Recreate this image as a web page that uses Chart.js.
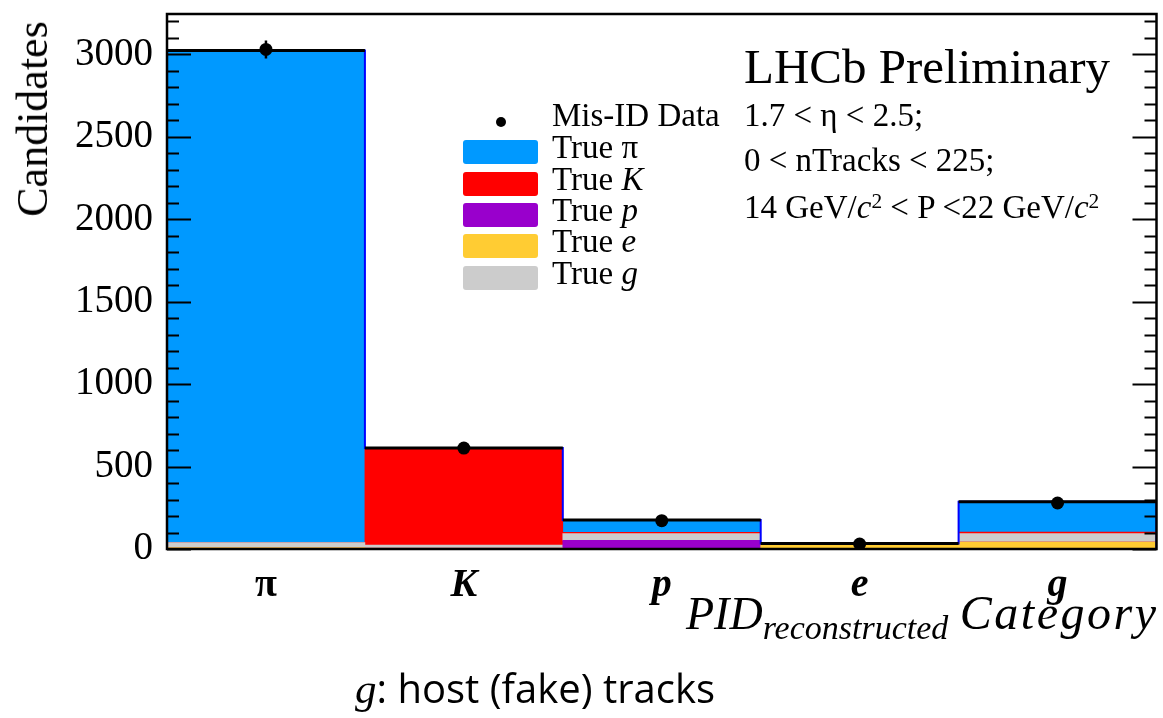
<!DOCTYPE html>
<html>
<head>
<meta charset="utf-8">
<script src="https://cdn.jsdelivr.net/npm/chart.js@4.4.1/dist/chart.umd.min.js"></script>
<style>
  body { margin: 0; background: #fff; }
  #wrap { position: relative; width: 1163px; height: 718px; font-family: 'Liberation Serif', serif; color: #000; }
  #wrap canvas { position: absolute; left: 0; top: 0; }
  .txt { position: absolute; white-space: nowrap; line-height: 1; pointer-events: none; }
  .box { position: absolute; width: 75px; height: 24px; border-radius: 3px; }
  sup { font-size: 0.65em; vertical-align: 0.45em; line-height: 0; }
</style>
</head>
<body>
<div id="wrap">
  <canvas id="chart" width="1163" height="718"></canvas>

  <div class="txt" style="left:33px; top:119px; font-size:44px; transform:translate(-50%,-50%) rotate(-90deg);">Candidates</div>

  <div class="txt" style="left:744px; top:42px; font-size:49px;">LHCb Preliminary</div>
  <div class="txt" style="left:744px; top:99px; font-size:33px;">1.7 &lt; η &lt; 2.5;</div>
  <div class="txt" style="left:744px; top:144px; font-size:33px;">0 &lt; nTracks &lt; 225;</div>
  <div class="txt" style="left:744px; top:191px; font-size:33px;">14 GeV/<i>c</i><sup>2</sup> &lt; P &lt;22 GeV/<i>c</i><sup>2</sup></div>

  <div id="legend"></div>

  <div class="txt" style="left:686px; top:589px; font-size:46px; font-style:italic;">PID<span style="font-size:34px; vertical-align:-10px;">reconstructed</span> <span style="font-size:48px; letter-spacing:2.5px;">Category</span></div>

  <div class="txt" style="left:535px; top:667px; font-size:40px; font-family:'Open Sans', sans-serif; transform:translateX(-50%);"><i style="font-family:'Liberation Serif', serif; font-size:43px;">g</i>: host (fake) tracks</div>
</div>

<script>
// bins of the reconstructed PID category
const binLabels = ['π', 'K', 'p', 'e', 'g'];

// stacked true-ID contributions, bottom to top
const trueE = [9, 6, 3, 31, 43];
const trueP = [0, 0, 50, 0, 0];
const trueG = [30, 18, 40, 2, 50];
const trueK = [0, 588, 8, 0, 10];
const truePi = [2985, 0, 75, 0, 184];

// mis-ID data points
const dataValues = [3030, 612, 172, 30, 279];
const dataErrors = [55, 25, 13, 5, 17];

const yTickValues = [0, 500, 1000, 1500, 2000, 2500, 3000];
const yMax = 3245;
const yStep = 500;

const colors = {
    pi: '#0099ff',
    K: '#ff0000',
    p: '#9900cc',
    e: '#ffcc33',
    g: '#cccccc'
};

// legend entries (drawn as html inside the frame)
const legendEntries = [
    { label: 'True π', color: colors.pi },
    { label: 'True <i>K</i>', color: colors.K },
    { label: 'True <i>p</i>', color: colors.p },
    { label: 'True <i>e</i>', color: colors.e },
    { label: 'True <i>g</i>', color: colors.g }
];

function buildLegend() {
    let html = '';
    html += '<div style="position:absolute; left:496px; top:117px; width:10px; height:10px; border-radius:50%; background:#000;"></div>';
    html += '<div class="txt" style="left:552px; top:99px; font-size:33px;">Mis-ID Data</div>';
    const boxTops = [140, 172, 203, 234, 266];
    legendEntries.forEach((e, i) => {
        html += `<div class="box" style="left:463px; top:${boxTops[i]}px; background:${e.color};"></div>`;
        html += `<div class="txt" style="left:552px; top:${boxTops[i] - 9}px; font-size:33px;">${e.label}</div>`;
    });
    document.getElementById('legend').innerHTML = html;
}
buildLegend();

const totals = binLabels.map((_, i) => trueE[i] + trueP[i] + trueG[i] + trueK[i] + truePi[i]);

// outline of the stack (full, with verticals) and the black top steps
let outline = [{ x: -0.5, y: 0 }];
totals.forEach((t, i) => outline.push({ x: i - 0.5, y: t }));
outline.push({ x: totals.length - 0.5, y: totals[totals.length - 1] });
outline.push({ x: totals.length - 0.5, y: 0 });

let topSteps = [];
totals.forEach((t, i) => {
    topSteps.push({ x: i - 0.5, y: t });
    topSteps.push({ x: i + 0.5, y: t });
    topSteps.push({ x: i + 0.5, y: null });
});

let errorBars = [];
dataValues.forEach((v, i) => {
    errorBars.push({ x: i, y: v - dataErrors[i] });
    errorBars.push({ x: i, y: v + dataErrors[i] });
    errorBars.push({ x: i, y: null });
});

const dataPoints = dataValues.map((v, i) => ({ x: i, y: v }));

function barSet(label, values, color) {
    return {
        type: 'bar',
        label: label,
        data: values,
        stack: 'mc',
        grouped: false,
        backgroundColor: color,
        borderWidth: 0,
        barPercentage: 1,
        categoryPercentage: 1,
        order: 10
    };
}

function lineSet(label, points, color, width, order, extra) {
    return Object.assign({
        type: 'line',
        label: label,
        data: points,
        xAxisID: 'xl',
        yAxisID: 'yl',
        borderColor: color,
        borderWidth: width,
        pointRadius: 0,
        fill: false,
        spanGaps: false,
        order: order
    }, extra || {});
}

// inward ticks on both sides + frame
const frameTicks = {
    id: 'frameTicks',
    afterDatasetsDraw(chart) {
        const { ctx, chartArea: a } = chart;
        const y = chart.scales.y;
        ctx.save();
        ctx.strokeStyle = '#000';
        ctx.lineWidth = 2;
        ctx.beginPath();
        for (let v = 0; v <= yMax; v += 100) {
            const py = Math.round(y.getPixelForValue(v)) + 0.5;
            const len = v % yStep === 0 ? 24 : 12;
            ctx.moveTo(a.left, py);
            ctx.lineTo(a.left + len, py);
            ctx.moveTo(a.right, py);
            ctx.lineTo(a.right - len, py);
        }
        ctx.stroke();
        ctx.lineWidth = 2.5;
        ctx.strokeRect(a.left, a.top, a.right - a.left, a.bottom - a.top);
        ctx.restore();
    }
};

new Chart(document.getElementById('chart'), {
    type: 'bar',
    data: {
        labels: binLabels,
        datasets: [
            barSet('True e', trueE, colors.e),
            barSet('True p', trueP, colors.p),
            barSet('True g', trueG, colors.g),
            barSet('True K', trueK, colors.K),
            barSet('True π', truePi, colors.pi),
            lineSet('outline', outline, '#0000ff', 2, 5, { stepped: true }),
            lineSet('top', topSteps, '#000', 3, 4),
            lineSet('errors', errorBars, '#000', 2.5, 2),
            lineSet('Mis-ID Data', dataPoints, '#000', 0, 1, {
                showLine: false,
                pointRadius: 6.5,
                pointBackgroundColor: '#000',
                pointBorderWidth: 0
            })
        ]
    },
    options: {
        responsive: false,
        animation: false,
        layout: { padding: { top: 14, right: 2, left: 0, bottom: 0 } },
        plugins: {
            legend: { display: false },
            tooltip: { enabled: false }
        },
        scales: {
            x: {
                type: 'category',
                stacked: true,
                offset: true,
                grid: { display: false },
                border: { display: false },
                ticks: {
                    color: '#000',
                    padding: 5,
                    font: (c) => ({
                        family: 'Liberation Serif',
                        size: 40,
                        weight: 'bold',
                        style: c.index === 0 ? 'normal' : 'italic'
                    })
                },
                afterFit: (s) => {
                    s.height = 169;
                    s.paddingLeft = 0;
                    s.paddingRight = 0;
                }
            },
            y: {
                stacked: true,
                min: 0,
                max: yMax,
                grid: { display: false, drawTicks: false },
                border: { display: false },
                ticks: {
                    color: '#000',
                    padding: 14,
                    font: { family: 'Liberation Serif', size: 39 },
                    callback: (v) => String(v)
                },
                afterBuildTicks: (s) => {
                    s.ticks = yTickValues.map((v) => ({ value: v }));
                },
                afterFit: (s) => {
                    s.width = 167;
                    s.paddingTop = 0;
                    s.paddingBottom = 0;
                }
            },
            xl: { type: 'linear', min: -0.5, max: 4.5, offset: false, grid: { offset: false }, display: false },
            yl: { type: 'linear', min: 0, max: yMax, display: false }
        }
    },
    plugins: [frameTicks]
});
</script>
</body>
</html>
